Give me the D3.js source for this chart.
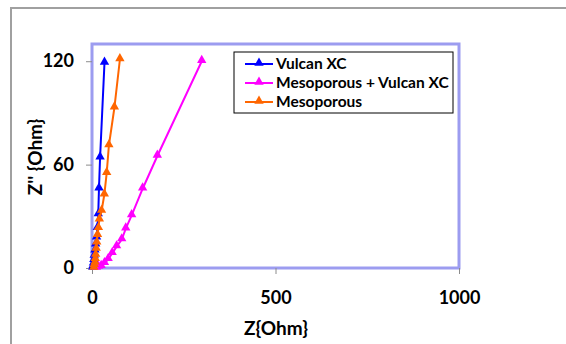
<!DOCTYPE html>
<html><head><meta charset="utf-8">
<script src="https://cdn.jsdelivr.net/npm/d3@7"></script>
<style>body{margin:0;background:#fff}svg{display:block}text{font-family:Lato,"Open Sans",sans-serif;font-weight:bold;fill:#000}</style>
</head><body>
<script>
const seriesNames = ["Vulcan XC", "Mesoporous + Vulcan XC", "Mesoporous"];
const seriesColors = ["#0000ff", "#ff00ff", "#ff6600"];
const vulcanX = [2, 3, 4, 5, 6, 8, 10, 12.5, 14.5, 17, 19, 22, 34];
const vulcanY = [0, 1, 2.5, 4.5, 7, 10, 13.5, 17.5, 23, 31, 46, 64, 119];
const mesoVulcanX = [12, 18, 25, 34, 44, 55, 67, 81, 92, 108, 138, 178, 299];
const mesoVulcanY = [0, 0.5, 1, 2.7, 5, 8.5, 12.4, 16.5, 22.8, 30.5, 46, 65, 120];
const mesoX = [5, 6, 8, 9, 10, 11.5, 13, 15, 17.5, 20, 26, 33.5, 40, 46, 61, 76];
const mesoY = [0, 1.5, 3, 5, 7.5, 11, 14.6, 19, 23, 28, 33, 42.5, 55, 71, 93, 121];
const xTicks = [0, 500, 1000];
const yTicks = [0, 60, 120];
const xTitle = "Z{Ohm}";
const yTitle = "Z'' {Ohm}";

const W = 566, H = 344;
const svg = d3.select("body").append("svg").attr("width", W).attr("height", H);
svg.append("rect").attr("x", 11).attr("y", 8).attr("width", 600).attr("height", 400)
  .attr("fill", "#fff").attr("stroke", "#a0a0a0").attr("stroke-width", 2);

const L = 92, R = 459, T = 44, B = 268;
const x = d3.scaleLinear().domain([0, 1000]).range([L, R]);
const y = d3.scaleLinear().domain([0, 130]).range([B, T]);

// plot area
svg.append("rect").attr("x", L).attr("y", T).attr("width", R - L).attr("height", B - T)
  .attr("fill", "#fff").attr("stroke", "#9c9cf0").attr("stroke-width", 3);

// axes
const yAxis = svg.append("g").attr("transform", `translate(${L},0)`)
  .call(d3.axisLeft(y).tickValues(yTicks).tickFormat(d3.format("d")).tickSize(6).tickPadding(12));
const xAxis = svg.append("g").attr("transform", `translate(0,${B})`)
  .call(d3.axisBottom(x).tickValues(xTicks).tickFormat(d3.format("d")).tickSize(6).tickPadding(17));
[xAxis, yAxis].forEach(g => {
  g.select(".domain").remove();
  g.selectAll("line").attr("stroke", "#8c8c8c").attr("stroke-width", 1);
  g.selectAll("text").style("font-size", "18px").style("font-family", "Lato, sans-serif").style("font-weight", "bold");
});

const data = [
  vulcanX.map((v, i) => [v, vulcanY[i]]),
  mesoVulcanX.map((v, i) => [v, mesoVulcanY[i]]),
  mesoX.map((v, i) => [v, mesoY[i]])
];
const tri = d3.symbol().type(d3.symbolTriangle).size(38);
const line = d3.line().x(d => x(d[0])).y(d => y(d[1]));
data.forEach((s, k) => {
  const g = svg.append("g");
  g.append("path").attr("d", line(s)).attr("fill", "none")
    .attr("stroke", seriesColors[k]).attr("stroke-width", 2);
  g.selectAll("path.m").data(s).join("path").attr("class", "m")
    .attr("d", tri).attr("transform", d => `translate(${x(d[0])},${y(d[1]) - 1})`)
    .attr("fill", seriesColors[k]);
});

// titles
svg.append("text").attr("x", 276).attr("y", 335).attr("text-anchor", "middle")
  .style("font-size", "19px").text(xTitle);
svg.append("text").attr("transform", "translate(42,157) rotate(-90)").attr("text-anchor", "middle")
  .style("font-size", "19px").text(yTitle);

// legend
const lg = svg.append("g");
lg.append("rect").attr("x", 234).attr("y", 52).attr("width", 219).attr("height", 61)
  .attr("fill", "#fff").attr("stroke", "#000").attr("stroke-width", 1);
seriesNames.forEach((n, i) => {
  const yy = 64 + i * 19;
  lg.append("line").attr("x1", 245).attr("x2", 273).attr("y1", yy).attr("y2", yy)
    .attr("stroke", seriesColors[i]).attr("stroke-width", 2);
  lg.append("path").attr("d", tri).attr("transform", `translate(259,${yy - 1})`).attr("fill", seriesColors[i]);
  lg.append("text").attr("x", 276).attr("y", yy + 5).style("font-size", "15.5px").text(n);
});
</script>
</body></html>
